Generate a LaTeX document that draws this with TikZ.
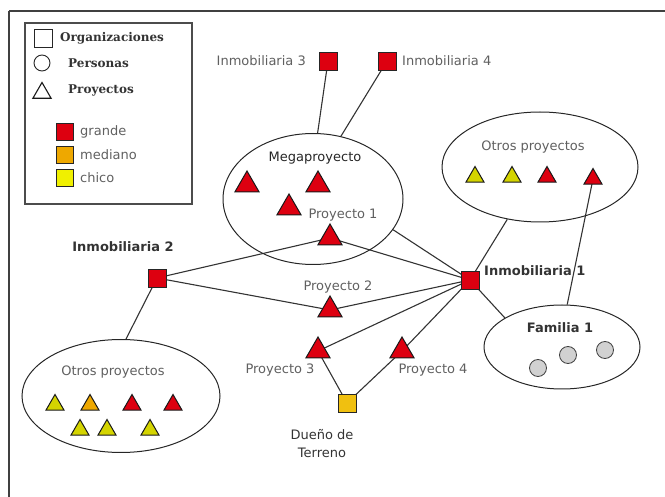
\documentclass[tikz,border=0pt]{standalone}
\usepackage{fontspec}
\setmainfont{DejaVu Sans}
\newfontfamily\legfont{DejaVu Serif}
\usetikzlibrary{shapes.geometric,backgrounds}
\definecolor{rojo}{HTML}{DD0010}
\definecolor{naranja}{HTML}{EEA800}
\definecolor{amarillo}{HTML}{F0F000}
\definecolor{oliva}{HTML}{D4D400}
\definecolor{duenio}{HTML}{F0C010}
\definecolor{txtgris}{HTML}{606060}
\begin{document}
\begin{tikzpicture}[x=1pt,y=-1pt,
  org/.style={draw=black!85,line width=0.9pt,minimum size=18pt,inner sep=0pt,fill=rojo},
  tri/.style={regular polygon,regular polygon sides=3,draw=black!90,line width=1pt,minimum size=28pt,inner sep=0pt,fill=rojo},
  stri/.style={tri,minimum size=21pt},
  per/.style={circle,draw=black!75,line width=0.8pt,minimum size=17pt,inner sep=0pt,fill=black!18},
  grp/.style={ellipse,draw=black!85,line width=1pt,inner sep=0pt},
  lbl/.style={font=\fontsize{13}{15}\selectfont,text=txtgris,inner sep=0pt},
  blbl/.style={font=\fontsize{13}{15}\selectfont\bfseries,text=black!80,inner sep=0pt},
  leg/.style={font=\legfont\fontsize{12}{14}\selectfont\bfseries,text=black!80,inner sep=0pt,anchor=west},
  edge/.style={draw=black!80,line width=1.1pt}]
\useasboundingbox (0,0) rectangle (665,497);
% frame
\draw[black!75,line width=2pt] (9,11) -- (665,11);
\draw[black!75,line width=2pt] (9,11) -- (9,497);
% legend
\draw[black!70,line width=1.5pt] (25,23) rectangle (192,204);
\node[draw=black!85,line width=0.9pt,minimum size=18pt,inner sep=0pt] (lsq) at (43,38) {};
\node[leg] (lorg) at (60,38) {Organizaciones};
\node[circle,draw=black!85,line width=0.9pt,minimum size=16pt,inner sep=0pt] (lcir) at (42,63) {};
\node[leg] (lper) at (68,63) {Personas};
\node[regular polygon,regular polygon sides=3,draw=black!90,line width=1.1pt,minimum size=21pt,inner sep=0pt] (ltri) at (42,93) {};
\node[leg] (lpro) at (68,90) {Proyectos};
\node[org,minimum size=17pt,fill=rojo] (lg) at (65,132) {};
\node[lbl,anchor=west] (lgt) at (80,132) {grande};
\node[org,minimum size=17pt,fill=naranja] (lm) at (65,155) {};
\node[lbl,anchor=west] (lmt) at (80,155) {mediano};
\node[org,minimum size=17pt,fill=amarillo] (lc) at (65,178) {};
\node[lbl,anchor=west] (lct) at (80,178) {chico};
% top organisations
\node[org] (in3) at (328,61) {};
\node[lbl,anchor=east] (in3t) at (306,61) {Inmobiliaria 3};
\node[org] (in4) at (387,61) {};
\node[lbl,anchor=west] (in4t) at (402,61) {Inmobiliaria 4};
% megaproyecto
\node[grp,minimum width=180pt,minimum height=131pt] (mega) at (313,199) {};
\node[lbl,text=black!85] (megat) at (315,158) {Megaproyecto};
\node[tri] (ma) at (247,185) {};
\node[tri] (mb) at (318,185) {};
\node[tri] (mc) at (289,208) {};
\node[tri] (p1) at (330,238) {};
\node[lbl] (p1t) at (343,215) {Proyecto 1};
% otros proyectos (right)
\node[grp,minimum width=196pt,minimum height=110pt] (otrosR) at (540,167) {};
\node[lbl] (otrosRt) at (533,147) {Otros proyectos};
\node[stri,fill=oliva] (ra) at (475,177) {};
\node[stri,fill=oliva] (rb) at (512,177) {};
\node[stri] (rc) at (547,177) {};
\node[stri] (rd) at (593,179) {};
% inmobiliaria 1
\node[org] (in1) at (470,280) {};
\node[blbl,anchor=west] (in1t) at (484,271) {Inmobiliaria 1};
% familia
\node[grp,minimum width=156pt,minimum height=84pt] (fam) at (562,347) {};
\node[blbl] (famt) at (560,328) {Familia 1};
\node[per] (fa) at (538,368) {};
\node[per] (fb) at (568,355) {};
\node[per] (fc) at (605,350) {};
% inmobiliaria 2
\node[org] (in2) at (157,278) {};
\node[blbl] (in2t) at (123,247) {Inmobiliaria 2};
% otros proyectos (left)
\node[grp,minimum width=198pt,minimum height=113pt] (otrosL) at (121,396) {};
\node[lbl] (otrosLt) at (113,372) {Otros proyectos};
\node[stri,fill=oliva] (la) at (55,405) {};
\node[stri,fill=naranja] (lb) at (90,405) {};
\node[stri] (lc2) at (132,405) {};
\node[stri] (ld) at (173,405) {};
\node[stri,fill=oliva] (le) at (80,430) {};
\node[stri,fill=oliva] (lf) at (107,430) {};
\node[stri,fill=oliva] (lh) at (150,430) {};
% central projects
\node[tri] (p2) at (330,310) {};
\node[lbl] (p2t) at (338,287) {Proyecto 2};
\node[tri] (p3) at (318,351) {};
\node[lbl] (p3t) at (280,370) {Proyecto 3};
\node[tri] (p4) at (402,351) {};
\node[lbl] (p4t) at (433,370) {Proyecto 4};
\node[org,fill=duenio] (due) at (347,403) {};
\node[blbl,font=\fontsize{13}{18}\selectfont,align=center] (duet) at (322,444) {Dueño de\\Terreno};
% connectors
\begin{scope}[on background layer]
\draw[edge] (in3.center) -- (mega.86);
\draw[edge] (in4.center) -- (mega.66);
\draw[edge] (mega.-21) -- (in1.center);
\draw[edge] (otrosR.-122) -- (in1.center);
\draw[edge] (in1.center) -- (fam.153);
\draw[edge] (rd.center) -- (fam.83);
\draw[edge] (in2.center) -- (p1.center);
\draw[edge] (p1.center) -- (in1.center);
\draw[edge] (in2.center) -- (p2.center);
\draw[edge] (p2.center) -- (in1.center);
\draw[edge] (in1.center) -- (p3.center);
\draw[edge] (in1.center) -- (p4.center);
\draw[edge] (p3.center) -- (due.center);
\draw[edge] (p4.center) -- (due.center);
\draw[edge] (in2.center) -- (otrosL.85);
\end{scope}
\end{tikzpicture}
\end{document}
